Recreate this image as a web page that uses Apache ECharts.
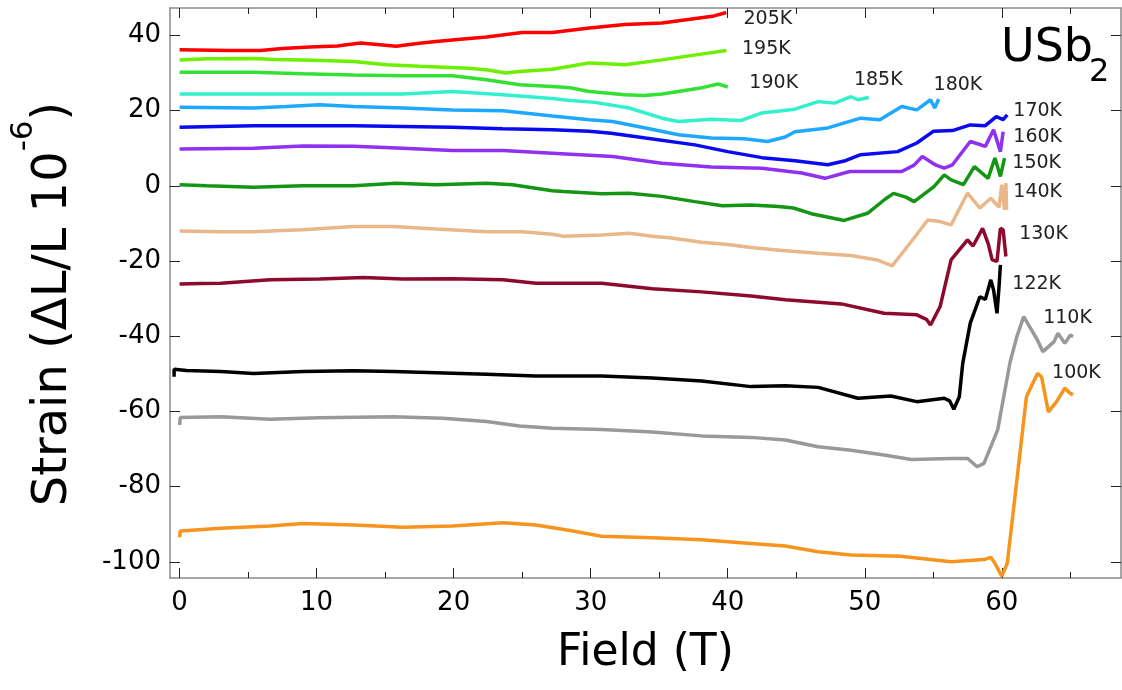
<!DOCTYPE html>
<html><head><meta charset="utf-8">
<script src="https://cdn.jsdelivr.net/npm/echarts@6/dist/echarts.min.js"></script>
<style>html,body{margin:0;padding:0;background:#fff}#c{width:1122px;height:690px}</style>
</head><body><div id="c"></div>
<script>
// ---- data (field in T, strain in 1e-6) ----
const temps = ['205K','195K','190K','185K','180K','170K','160K','150K','140K','130K','122K','110K','100K'];
const colors = ['#ff0000','#6cf000','#33e033','#33f0cc','#1ea8ff','#0a0af0','#9030f0','#149614','#e9b78a','#8c0a2d','#000000','#999999','#f7941d'];

const k205 = [[0,36.2],[3.7,36.0],[5.9,36.0],[7.5,36.5],[9.5,36.9],[11.5,37.2],[13.2,38.0],[15.8,37.1],[17.5,37.9],[18.7,38.4],[20.5,39.0],[22.4,39.6],[25.0,40.8],[27.2,40.8],[29.9,42.0],[32.5,42.9],[35.2,43.3],[37.8,44.6],[39.0,45.2],[39.9,46.1]];
const k195 = [[0,33.5],[2,33.8],[5.4,33.9],[7,33.6],[9.0,33.5],[11,33.3],[12.7,33.1],[15.1,32.2],[17.5,31.8],[21.1,31.3],[22.5,30.8],[23.8,30.0],[24.8,30.4],[27.2,31.0],[28.5,31.8],[29.9,32.7],[31.5,32.4],[32.5,32.2],[35.2,33.5],[37.8,34.9],[39.9,36.0]];
const k190 = [[0,30.2],[5.4,30.2],[9.0,29.8],[12.7,29.5],[16.3,29.3],[19.9,29.3],[22.4,28.2],[24.8,26.9],[27.2,26.4],[28.5,26.1],[29.9,25.1],[32.5,24.2],[33.9,24.0],[35.2,24.4],[36.4,25.1],[38.0,26.0],[39.3,27.1],[40.0,26.3]];
const k185 = [[0,24.4],[5,24.4],[10,24.4],[16.3,24.4],[19.9,25.1],[23.6,24.2],[27.2,23.2],[28.5,22.7],[30.3,22.2],[32.8,20.7],[35.2,18.0],[36.4,17.1],[38.8,17.7],[41.0,17.4],[42.5,19.4],[44.9,20.4],[46.6,22.4],[47.8,22.0],[49.0,23.7],[49.5,22.9],[50.3,23.5]];
const k180 = [[0,20.9],[5.4,20.7],[7.8,21.1],[10.2,21.6],[12.7,21.1],[16.3,20.7],[19.9,20.2],[23.6,20.0],[27.2,18.6],[29.9,17.6],[31.6,17.1],[34.0,15.4],[36.4,13.6],[38.8,12.7],[41.2,12.5],[42.9,11.8],[44.2,13.0],[44.9,14.4],[47.3,15.4],[49.7,18.0],[51.1,17.6],[52.7,21.1],[53.8,20.2],[54.8,22.9],[55.1,20.7],[55.4,23.1]];
const k170 = [[0,15.6],[5.4,16.0],[9.0,16.0],[12.7,16.0],[16.3,15.8],[19.9,15.6],[23.6,15.2],[27.2,14.9],[29.9,14.5],[31.5,14.0],[34.0,12.7],[37.6,10.9],[40.0,9.1],[42.5,7.5],[44.9,6.7],[47.3,5.6],[48.5,6.6],[49.7,8.3],[52.4,9.1],[53.8,11.4],[55.0,14.5],[56.4,14.7],[57.7,16.2],[58.8,16.0],[59.6,18.4],[60.1,17.6],[60.4,18.9]];
const k160 = [[0,9.8],[5.4,10.0],[9.0,10.6],[12.7,10.5],[16.3,10.0],[19.9,9.4],[23.6,9.4],[27.2,8.7],[31.6,7.8],[35.2,6.0],[38.8,5.0],[42.5,4.7],[45.4,3.4],[47.1,2.0],[48.9,3.8],[51.1,3.8],[52.7,3.8],[53.6,5.5],[54.2,7.8],[55.2,5.5],[55.8,4.7],[56.4,5.6],[57.7,11.8],[58.4,11.0],[58.8,10.5],[59.4,14.9],[59.9,9.1],[60.1,14.4]];
const k150 = [[0,0.3],[2,0],[5.4,-0.4],[9.0,0],[12.7,0],[15.8,0.7],[18.7,0.3],[22.4,0.7],[24.3,0.3],[27.2,-1.3],[28,-1.5],[30.8,-2.1],[32.8,-2.0],[35.2,-2.8],[37.6,-4.2],[39.6,-5.3],[41.7,-5.1],[43.7,-5.5],[44.8,-5.9],[46.1,-7.4],[48.5,-9.2],[50.2,-7.3],[51.5,-3.5],[52.1,-2.0],[53.0,-3.0],[53.6,-4.2],[55.05,-0.2],[55.8,2.9],[56.3,1.6],[57.2,0.3],[58.0,5.1],[59.0,2.0],[59.5,7.4],[59.9,2.5],[60.2,7.4]];
const k140 = [[0,-12.0],[3,-12.2],[5.4,-12.2],[7.5,-11.9],[9.0,-11.7],[12.7,-10.8],[15.6,-10.8],[18.7,-11.5],[22.4,-12.2],[25.0,-12.2],[27.2,-12.9],[28.0,-13.4],[30.8,-13.1],[32.8,-12.6],[34.5,-13.4],[35.9,-13.9],[38.1,-15.0],[40.0,-15.6],[41.7,-16.4],[44.0,-17.2],[46.6,-17.9],[49.0,-18.5],[50.9,-19.7],[52.0,-21.3],[53.4,-14.8],[54.6,-9.1],[55.5,-9.5],[56.3,-10.4],[57.5,-1.9],[58.4,-5.9],[59.2,-3.3],[59.8,-5.7],[60.0,0.3],[60.2,-6.4],[60.3,0.7],[60.35,-6.4]];
const k130 = [[0,-26.1],[1.5,-26.0],[3.0,-25.9],[6.6,-25.0],[10.2,-24.8],[13.4,-24.4],[16.3,-24.8],[19.9,-24.7],[23.6,-25.0],[26.0,-25.9],[30.8,-25.9],[34.5,-27.4],[38.1,-28.2],[41.7,-29.3],[44.2,-30.3],[48.3,-31.4],[51.4,-33.9],[53.8,-34.3],[54.5,-35.5],[54.8,-37.0],[55.5,-32.1],[56.3,-19.7],[57.5,-14.4],[57.9,-16.0],[58.6,-11.3],[59.0,-15.3],[59.3,-19.7],[59.65,-20.1],[59.9,-11.3],[60.1,-11.7],[60.3,-18.8]];
const k122 = [[-0.4,-50.8],[-0.4,-48.8],[0.5,-49.1],[3.0,-49.4],[5.4,-49.9],[9.0,-49.4],[12.7,-49.2],[15.6,-49.4],[18.7,-49.7],[22.4,-50.1],[26.0,-50.6],[30.8,-50.6],[34.5,-51.1],[38.1,-51.9],[41.7,-53.4],[44.2,-53.2],[46.6,-53.6],[49.5,-56.5],[51.9,-55.9],[53.8,-57.4],[55.8,-56.5],[56.2,-57.2],[56.5,-59.4],[56.9,-56.1],[57.15,-47.2],[57.7,-36.5],[58.4,-29.5],[58.8,-30.2],[59.2,-25.0],[59.4,-27.7],[59.65,-33.9],[59.8,-26.8],[59.9,-21.0]];
const k110 = [[0,-63.6],[0.05,-61.6],[3.0,-61.4],[6.6,-62.1],[10.2,-61.7],[15.6,-61.4],[19.2,-61.8],[22.4,-62.7],[24.8,-63.9],[27.2,-64.5],[30.8,-64.8],[34.5,-65.5],[38.1,-66.5],[41.7,-66.9],[44.2,-67.6],[46.6,-69.4],[49.0,-70.3],[51.4,-71.6],[53.4,-72.8],[56.3,-72.5],[57.5,-72.5],[58.2,-74.7],[58.7,-73.8],[59.7,-64.9],[60.6,-47.0],[61.1,-40.1],[61.6,-34.8],[62.6,-41.0],[63.0,-44.1],[63.8,-41.5],[64.1,-39.2],[64.6,-41.9],[65.0,-39.7],[65.2,-40.1]];
const k100 = [[0,-93.5],[0.05,-91.8],[3.0,-91.1],[6.6,-90.5],[9.0,-89.8],[12.7,-90.2],[16.3,-90.8],[19.9,-90.5],[23.6,-89.6],[26.0,-90.2],[28.4,-91.6],[30.8,-93.2],[34.5,-93.6],[38.1,-94.1],[41.7,-95.1],[44.2,-95.8],[46.6,-97.3],[49.0,-98.2],[52.6,-98.5],[56.3,-100.0],[58.7,-99.4],[59.2,-98.8],[59.5,-100.4],[60.0,-103.8],[60.4,-100.4],[61.1,-78.3],[61.8,-56.1],[62.6,-49.9],[62.9,-50.8],[63.4,-60.1],[64.0,-57.4],[64.6,-53.8],[65.0,-55.2],[65.2,-55.6]];
const curves = [k205,k195,k190,k185,k180,k170,k160,k150,k140,k130,k122,k110,k100];

// label anchor points (data coords: field, strain)
const labelAt = [[41.15,44.4],[41.04,36.4],[41.58,27.4],[49.21,28.2],[55.02,26.9],[60.84,19.8],[60.84,13.0],[60.77,6.1],[60.84,-1.7],[61.27,-12.8],[60.77,-26.1],[63.02,-35.2],[63.67,-49.8]];

const xMajor = [0,10,20,30,40,50,60];
const xMinor = [5,15,25,35,45,55,65];
const yMajor = [-100,-80,-60,-40,-20,0,20,40];

const FONT = 'DejaVu Sans';
const X_MIN = -0.7, X_MAX = 68.7, Y_MIN = -104.3, Y_MAX = 47.3;
const spine = {show:true, onZero:false, lineStyle:{color:'#8a8a8a', width:1.5}};
const noLine = {show:false, onZero:false};

function xAx(pos, ticks, len, withLine, withLabel, extra) {
  return Object.assign({
    type:'value', position:pos, min:X_MIN, max:X_MAX,
    axisLine: withLine ? spine : noLine,
    axisTick:{show:true, inside:true, length:len, customValues:ticks, lineStyle:{color:'#222', width:1}},
    axisLabel: withLabel ? {show:true, customValues:xMajor, margin:12, fontSize:26, color:'#000', fontFamily:FONT} : {show:false},
    splitLine:{show:false}
  }, extra || {});
}
function yAx(pos, withLabel, extra) {
  return Object.assign({
    type:'value', position:pos, min:Y_MIN, max:Y_MAX,
    axisLine: spine,
    axisTick:{show:true, inside:true, length:10, customValues:yMajor, lineStyle:{color:'#222', width:1}},
    axisLabel: withLabel ? {show:true, customValues:yMajor, margin:9, fontSize:26, color:'#000', fontFamily:FONT} : {show:false},
    splitLine:{show:false}
  }, extra || {});
}

const chart = echarts.init(document.getElementById('c'), null, {renderer:'canvas'});
chart.setOption({
  animation:false,
  backgroundColor:'#fff',
  grid:{left:166, top:8, width:955, height:570, containLabel:false},
  xAxis:[
    xAx('bottom', xMajor, 10, true, true, {
      name:'Field (T)', nameLocation:'middle', nameGap:54,
      nameTextStyle:{fontSize:44, color:'#000', fontFamily:FONT}
    }),
    xAx('bottom', xMinor, 6, false, false),
    xAx('top', xMajor, 10, true, false),
    xAx('top', xMinor, 6, false, false)
  ],
  yAxis:[
    yAx('left', true, {
      name:'{m|Strain (ΔL/L 10}{s|-6}{m|)}', nameLocation:'middle', nameGap:70, nameRotate:90,
      nameTextStyle:{
        color:'#000', fontFamily:FONT, padding:[0,22,0,0],
        rich:{
          m:{fontSize:48, lineHeight:92, color:'#000', fontFamily:FONT, verticalAlign:'middle'},
          s:{fontSize:31, lineHeight:30, color:'#000', fontFamily:FONT, verticalAlign:'top'}
        }
      }
    }),
    yAx('right', false)
  ],
  graphic:[
    {type:'text', left:1001, top:26, style:{text:'USb', fontSize:46, fontFamily:FONT, fill:'#000'}},
    {type:'text', left:1089, top:57, style:{text:'2', fontSize:32, fontFamily:FONT, fill:'#000'}}
  ],
  series: curves.map((d, i) => ({
    name: temps[i], type:'line', data:d, xAxisIndex:0, yAxisIndex:0,
    showSymbol:false, symbol:'none', clip:true,
    lineStyle:{color:colors[i], width:3.5}, itemStyle:{color:colors[i]},
    markPoint:{
      symbol:'circle', symbolSize:0, silent:true,
      label:{show:true, position:'right', distance:0, formatter:temps[i], color:'#222', fontSize:19, fontFamily:FONT},
      data:[{coord:labelAt[i]}]
    }
  }))
});
</script></body></html>
